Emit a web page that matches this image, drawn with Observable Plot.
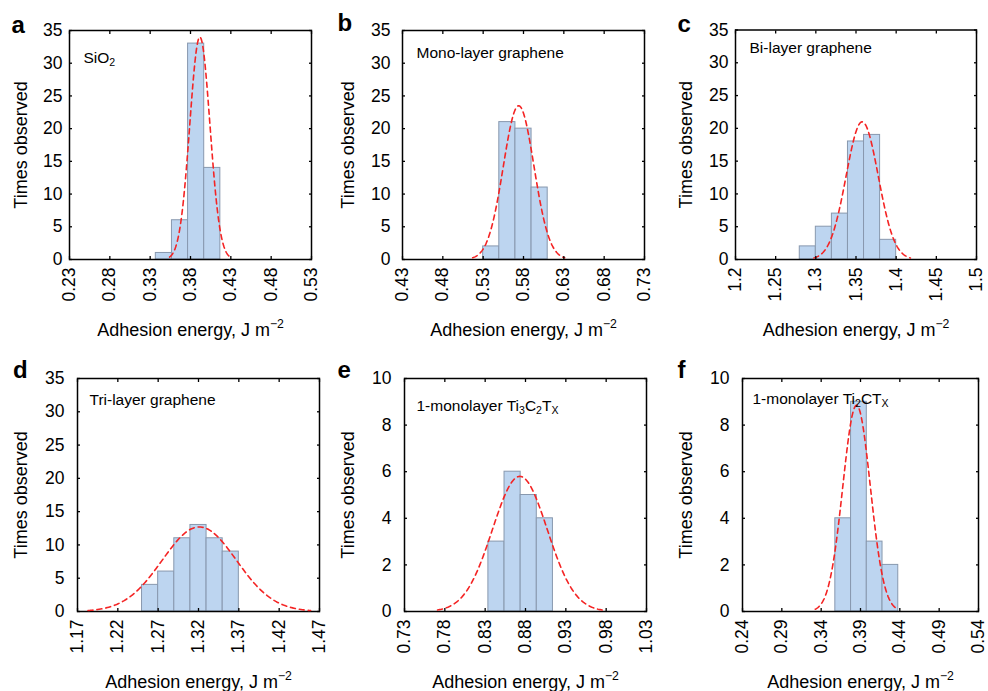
<!DOCTYPE html>
<html><head><meta charset="utf-8">
<script src="https://cdn.jsdelivr.net/npm/d3@7"></script>
<script src="https://cdn.jsdelivr.net/npm/@observablehq/plot@0.6"></script>
<style>
body{margin:0;background:#fff;}
#wrap{position:relative;width:988px;height:691px;overflow:hidden;font-family:"Liberation Sans",Arial,Helvetica,sans-serif;}
.panel{position:absolute;}
</style></head><body><div id="wrap"></div>
<script>
// ---------- data ----------
const panelLetters = ["a", "b", "c", "d", "e", "f"];
const panelNames = ["SiO_{2}", "Mono-layer graphene", "Bi-layer graphene", "Tri-layer graphene",
  "1-monolayer Ti_{3}C_{2}T_{X}", "1-monolayer Ti_{2}CT_{X}"];
const yLabel = "Times observed";
const xLabel = "Adhesion energy, J m^{−2}";

const xDomains = [[0.23, 0.53], [0.43, 0.73], [1.2, 1.5], [1.17, 1.47], [0.73, 1.03], [0.24, 0.54]];
const xTicks = [
  [0.23, 0.28, 0.33, 0.38, 0.43, 0.48, 0.53],
  [0.43, 0.48, 0.53, 0.58, 0.63, 0.68, 0.73],
  [1.2, 1.25, 1.3, 1.35, 1.4, 1.45, 1.5],
  [1.17, 1.22, 1.27, 1.32, 1.37, 1.42, 1.47],
  [0.73, 0.78, 0.83, 0.88, 0.93, 0.98, 1.03],
  [0.24, 0.29, 0.34, 0.39, 0.44, 0.49, 0.54]
];
const yMax = [35, 35, 35, 35, 10, 10];
const yTicks = [
  [0, 5, 10, 15, 20, 25, 30, 35], [0, 5, 10, 15, 20, 25, 30, 35], [0, 5, 10, 15, 20, 25, 30, 35],
  [0, 5, 10, 15, 20, 25, 30, 35], [0, 2, 4, 6, 8, 10], [0, 2, 4, 6, 8, 10]
];

const binWidth = 0.02;
const binStarts = [
  [0.337, 0.357, 0.377, 0.397],
  [0.53, 0.55, 0.57, 0.59],
  [1.28, 1.30, 1.32, 1.34, 1.36, 1.38],
  [1.25, 1.27, 1.29, 1.31, 1.33, 1.35],
  [0.834, 0.854, 0.874, 0.894],
  [0.358, 0.378, 0.398, 0.418]
];
const binCounts = [
  [1, 6, 33, 14],
  [2, 21, 20, 11],
  [2, 5, 7, 18, 19, 3],
  [4, 6, 11, 13, 11, 9],
  [3, 6, 5, 4],
  [4, 9, 3, 2]
];

// Gaussian fit parameters (amplitude, mean, sigma)
const fitAmp = [34, 23.5, 21, 12.7, 5.8, 8.85];
const fitMean = [0.3916, 0.574, 1.3577, 1.321, 0.873, 0.385];
const fitSigma = [0.0125, 0.019, 0.02, 0.046, 0.034, 0.0175];

// ---------- layout ----------
const svgBox = [[0, 0, 330, 345], [330, 0, 330, 345], [660, 0, 328, 345],
                [0, 345, 330, 346], [330, 345, 330, 346], [660, 345, 328, 346]];
const frameBox = [[69, 30, 311, 259], [402, 30, 644, 259], [735, 29.5, 976, 259],
                  [77, 378, 319, 611], [404, 378, 646, 611], [742, 378, 978, 611]];
const yTickPad = [7, 12, 7, 13, 13, 13];
const yLabelDx = [-48, -54.5, -49.5, -56.5, -56.5, -56.5];
const noteOff = [[14, 32], [14, 27], [14, 23], [12, 26], [12, 32], [10, 25]];
const letterOff = [[-58, 2], [-65, 0.5], [-58, 2], [-64.5, -0.5], [-67, -0.5], [-65, -0.5]];
const FONT = '"Liberation Sans", Arial, Helvetica, sans-serif';

function richify(svg) {
  const NS = "http://www.w3.org/2000/svg";
  svg.querySelectorAll("text").forEach(t => {
    const s = t.textContent;
    if (!/[\^_]\{/.test(s)) return;
    const fs = parseFloat(getComputedStyle(t).fontSize) || 16;
    const parts = [];
    const re = /([\^_])\{([^}]*)\}/g;
    let last = 0, m;
    while ((m = re.exec(s))) {
      if (m.index > last) parts.push({t: s.slice(last, m.index), k: ""});
      parts.push({t: m[2], k: m[1]});
      last = re.lastIndex;
    }
    if (last < s.length) parts.push({t: s.slice(last), k: ""});
    t.textContent = "";
    let shift = 0;
    parts.forEach(p => {
      const sp = document.createElementNS(NS, "tspan");
      sp.textContent = p.t;
      let target = 0;
      if (p.k === "^") { target = -0.42 * fs; sp.setAttribute("font-size", (0.68 * fs) + "px"); }
      else if (p.k === "_") { target = 0.24 * fs; sp.setAttribute("font-size", (0.68 * fs) + "px"); }
      if (target !== shift) sp.setAttribute("dy", (target - shift) + "px");
      shift = target;
      t.appendChild(sp);
    });
  });
}

const wrap = document.getElementById("wrap");
for (let i = 0; i < 6; i++) {
  const sb = svgBox[i], fb = frameBox[i];
  const bars = binStarts[i].map((s, j) => ({x1: s, x2: s + binWidth, y: binCounts[i][j]}));
  const mu = fitMean[i], sg = fitSigma[i], A = fitAmp[i];
  const curve = d3.range(0, 161).map(k => {
    const x = mu - 3 * sg + k * (6 * sg / 160);
    return {x, y: A * Math.exp(-((x - mu) ** 2) / (2 * sg * sg))};
  });
  const chart = Plot.plot({
    width: sb[2], height: sb[3],
    marginLeft: fb[0] - sb[0], marginTop: fb[1] - sb[1],
    marginRight: sb[0] + sb[2] - fb[2], marginBottom: sb[1] + sb[3] - fb[3],
    style: {fontFamily: FONT, fontSize: "17px", background: "transparent", overflow: "visible", color: "#000"},
    x: {domain: xDomains[i]},
    y: {domain: [0, yMax[i]]},
    marks: [
      Plot.rectY(bars, {x1: "x1", x2: "x2", y: "y", fill: "#bdd5f0", stroke: "#8898ae", strokeWidth: 1}),
      Plot.frame({stroke: "#000", strokeWidth: 1.5}),
      Plot.line(curve, {x: "x", y: "y", stroke: "#f42424", strokeWidth: 1.6, strokeDasharray: "5,4"}),
      Plot.axisX({ticks: xTicks[i], tickSize: 0, tickPadding: 8, tickRotate: -90, label: null, tickFormat: d => String(d), fontSize: 17.5}),
      Plot.axisX({ticks: xTicks[i], anchor: "bottom", tickSize: 3, dy: -3, fill: "none", label: null, strokeWidth: 1.3}),
      Plot.axisX({ticks: xTicks[i], anchor: "top", tickSize: 3, dy: 3, fill: "none", label: null, strokeWidth: 1.3}),
      Plot.axisY({ticks: yTicks[i], tickSize: 0, tickPadding: yTickPad[i], label: null, tickFormat: d => String(d), fontSize: 17.5}),
      Plot.axisY({ticks: yTicks[i], anchor: "left", tickSize: 3, dx: 3, fill: "none", label: null, strokeWidth: 1.3}),
      Plot.axisY({ticks: yTicks[i], anchor: "right", tickSize: 3, dx: -3, fill: "none", label: null, strokeWidth: 1.3}),
      Plot.text([yLabel], {text: d => d, frameAnchor: "left", dx: yLabelDx[i], rotate: -90, fontSize: 18, textAnchor: "middle", lineAnchor: "middle"}),
      Plot.text([xLabel], {text: d => d, frameAnchor: "bottom", dy: 76, lineAnchor: "bottom", textAnchor: "middle", fontSize: 18}),
      Plot.text([panelNames[i]], {text: d => d, frameAnchor: "top-left", dx: noteOff[i][0], dy: noteOff[i][1], textAnchor: "start", lineAnchor: "bottom", fontSize: 15.5}),
      Plot.text([panelLetters[i]], {text: d => d, frameAnchor: "top-left", dx: letterOff[i][0], dy: letterOff[i][1], textAnchor: "start", lineAnchor: "bottom", fontSize: 24, fontWeight: "bold"})
    ]
  });
  chart.classList.add("panel");
  chart.style.left = sb[0] + "px";
  chart.style.top = sb[1] + "px";
  wrap.appendChild(chart);
  richify(chart);
}
</script></body></html>
